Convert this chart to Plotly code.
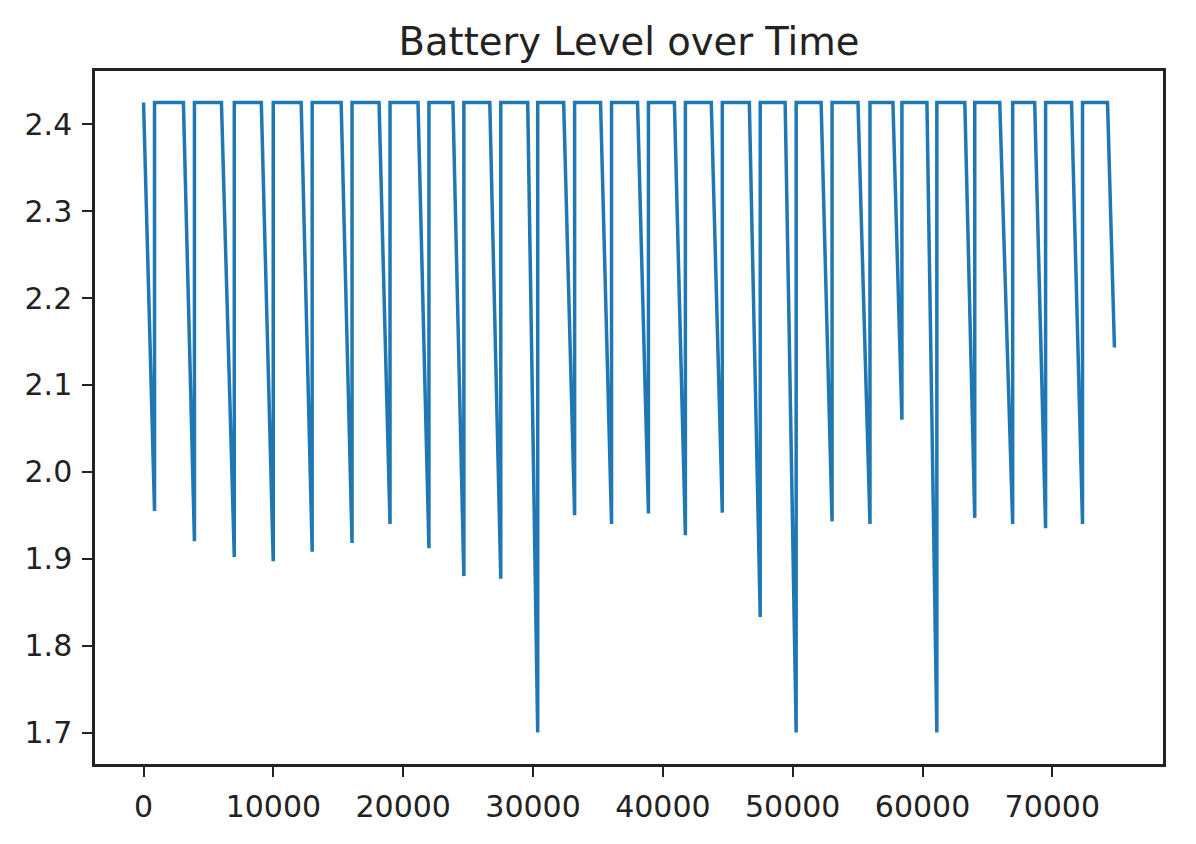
import plotly.graph_objects as go

# Battery level data
full_level = 2.425
drop_start_time = [0, 3070, 6000, 9070, 12140, 15220, 18140, 21140, 23830, 26670,
                   29590, 32360, 35200, 38050, 40890, 43730, 46660, 49420, 52190,
                   55030, 57720, 60340, 63260, 65950, 68640, 71480, 74250]
min_time = [846, 3920, 6990, 9990, 12990, 16060, 18985, 21983, 24673, 27516,
            30360, 33204, 36048, 38891, 41735, 44579, 47501, 50268, 53033,
            55954, 58414, 61104, 64024, 66945, 69481, 72325, 74785]
min_level = [1.955, 1.920, 1.902, 1.897, 1.908, 1.918, 1.940, 1.912, 1.880, 1.877,
             1.700, 1.950, 1.940, 1.952, 1.927, 1.953, 1.833, 1.700, 1.943,
             1.940, 2.060, 1.700, 1.947, 1.940, 1.935, 1.940, 2.143]

x_ticks = [0, 10000, 20000, 30000, 40000, 50000, 60000, 70000]
y_ticks = [1.7, 1.8, 1.9, 2.0, 2.1, 2.2, 2.3, 2.4]

# Build series: flat at full level, decline to minimum, jump back to full
t, v = [], []
n = len(min_time)
for i in range(n):
    t.append(drop_start_time[i]); v.append(full_level)
    t.append(min_time[i]); v.append(min_level[i])
    if i < n - 1:
        t.append(min_time[i]); v.append(full_level)

xmin, xmax = min(t), max(t)
xpad = 0.05 * (xmax - xmin)
ymin, ymax = min(v), max(v)
ypad = 0.05 * (ymax - ymin)

fig = go.Figure()
fig.add_trace(go.Scatter(x=t, y=v, mode="lines",
                         line=dict(color="#1f77b4", width=3.5),
                         showlegend=False))

font_family = "DejaVu Sans"
axis_common = dict(showline=True, mirror=True, linecolor="#222222", linewidth=2.5,
                   ticks="outside", ticklen=10, tickwidth=2, tickcolor="#222222",
                   showgrid=False, zeroline=False, ticklabelstandoff=4,
                   tickfont=dict(family=font_family, size=30, color="#222222"))

W, H = 1180, 828
fig.update_layout(
    width=W, height=H,
    paper_bgcolor="white", plot_bgcolor="white",
    margin=dict(l=87, r=25, t=63, b=62),
    title=dict(text="Battery Level over Time", x=0.5, xref="paper",
               y=1 - 34 / H, yref="container", yanchor="middle", xanchor="center",
               font=dict(family=font_family, size=38.5, color="#222222")),
    xaxis=dict(range=[xmin - xpad, xmax + xpad], tickvals=x_ticks,
               ticktext=[str(x) for x in x_ticks], **axis_common),
    yaxis=dict(range=[ymin - ypad, ymax + ypad], tickvals=y_ticks,
               ticktext=[f"{y:.1f}" for y in y_ticks], **axis_common),
)

fig.write_html("out.html")
